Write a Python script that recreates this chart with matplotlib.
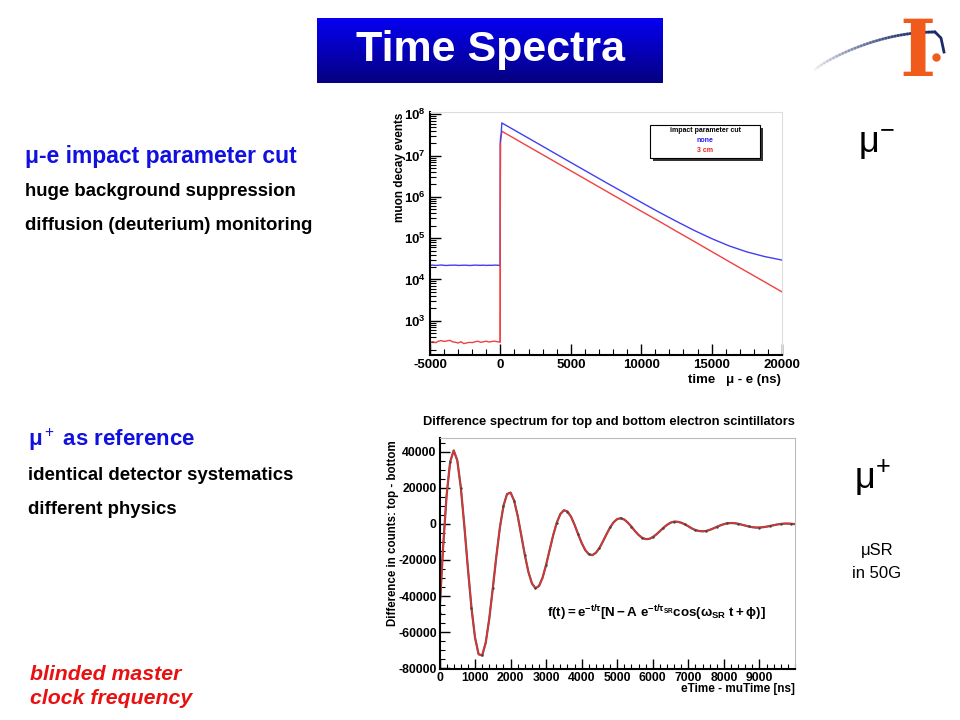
"""
Time spectra slide: mu- lifetime spectrum (log) and mu+ muSR difference spectrum
"""
import numpy as np
import matplotlib
matplotlib.use("Agg")
import matplotlib.pyplot as plt
from matplotlib.patches import Rectangle
from matplotlib.ticker import FixedLocator, MultipleLocator, LogLocator, NullFormatter

plt.rcParams['font.family'] = ['Liberation Sans', 'DejaVu Sans']
plt.rcParams['mathtext.fontset'] = 'custom'
plt.rcParams['mathtext.rm'] = 'Liberation Sans'
plt.rcParams['mathtext.it'] = 'Liberation Sans:italic'
plt.rcParams['mathtext.bf'] = 'Liberation Sans:bold'
plt.rcParams['axes.unicode_minus'] = False

# ---- top plot data (mu- time spectrum) ----
bgTime = [-5000, -4800, -4600, -4400, -4200, -4000, -3800, -3600, -3400, -3200,
          -3000, -2800, -2600, -2400, -2200, -2000, -1800, -1600, -1400, -1200,
          -1000, -800, -600, -400, -200, -20]
redBg = [300, 310, 295, 320, 330, 315, 325, 335, 310, 300,
         290, 310, 280, 290, 300, 295, 310, 320, 300, 310,
         320, 305, 315, 320, 310, 305]
blueBg = [22000, 22300, 21900, 22100, 22400, 22000, 21800, 22200, 22100, 22300,
          21900, 22000, 22200, 22100, 21800, 22000, 22300, 22100, 22000, 22200,
          21900, 22100, 22000, 22300, 22100, 22000]
decayTime = [0, 60, 100, 2500, 5000, 7500, 10000, 11250, 12500, 13750, 15000,
             16250, 17500, 18750, 20000]
redDecay = [2.0e7, 3.0e7, 3.9e7, 1.32e7, 4.29e6, 1.39e6, 4.52e5, 2.6e5, 1.47e5,
            8.4e4, 4.76e4, 2.7e4, 1.54e4, 8.8e3, 5.0e3]
blueDecay = [2.5e7, 3.5e7, 6.2e7, 2.11e7, 6.83e6, 2.23e6, 7.4e5, 4.3e5, 2.56e5,
             1.55e5, 9.8e4, 6.5e4, 4.66e4, 3.6e4, 2.95e4]

# ---- bottom plot data (top - bottom difference, every 100 ns) ----
diffTime = list(range(0, 10100, 100))
diffCounts = [-49200, -13200, 15900, 34500, 40800, 35300, 20200, -1300, -24900, -46700,
              -63200, -72300, -73000, -65900, -52600, -35600, -17800, -1800, 10100, 16600,
              17400, 12900, 4400, -6300, -17200, -26600, -33000, -35700, -34400, -29800,
              -22600, -14300, -6100, 800, 5500, 7600, 6900, 4000, -500, -5700,
              -10600, -14500, -16800, -17300, -16000, -13300, -9600, -5600, -1900, 1000,
              2700, 3200, 2400, 700, -1500, -4000, -6100, -7700, -8400, -8300,
              -7300, -5800, -4000, -2100, -500, 700, 1300, 1200, 700, -200,
              -1300, -2500, -3400, -3900, -4100, -3900, -3300, -2500, -1600, -800,
              -100, 400, 500, 400, 100, -400, -900, -1400, -1800, -2000,
              -2000, -1800, -1500, -1100, -700, -300, 0, 200, 200, 100,
              -100]


def px(x, y):
    # slide pixel coordinates -> figure fraction
    return x / 960.0, 1 - y / 720.0


fig = plt.figure(figsize=(9.6, 7.2), dpi=100)
fig.patch.set_facecolor("white")

# ---- title box with blue gradient ----
tax = fig.add_axes([317 / 960, 1 - 83 / 720, 346 / 960, 65 / 720])
grad = np.linspace(0, 1, 64).reshape(-1, 1)
cols = np.zeros((64, 1, 3))
cols[:, 0, 2] = 0.95 - 0.45 * grad[:, 0]
cols[:, 0, 0] = 0.02
tax.imshow(cols, aspect="auto", extent=[0, 1, 0, 1])
tax.set_axis_off()
tax.text(0.5, 0.5, "Time Spectra", color="white", fontsize=31, fontweight="bold",
         ha="center", va="center", transform=tax.transAxes)

# ---- logo ----
lax = fig.add_axes([790 / 960, 1 - 100 / 720, 170 / 960, 100 / 720])
lax.set_xlim(790, 960)
lax.set_ylim(100, 0)
lax.set_axis_off()
arcX = np.linspace(815, 935, 40)
arcY = 70 - 38 * np.sin((arcX - 815) / 120 * np.pi / 2) ** 0.8
for j in range(len(arcX) - 1):
    lax.plot(arcX[j:j + 2], arcY[j:j + 2], color="#1a2a6a", lw=2,
             alpha=0.05 + 0.95 * j / len(arcX), solid_capstyle="round")
lax.plot([935, 941, 944], [32, 38, 52], color="#1a2a6a", lw=2)
lax.text(918, 76, "I", fontsize=56, fontweight="bold", family="DejaVu Serif",
         color="#f05a1a", ha="center", va="baseline")
lax.plot([936], [57], "o", color="#f05a1a", ms=5)

# ---- left text ----
fig.text(*px(25, 157), "\u03bc-e impact parameter cut", color="#1010e0", fontsize=16.5,
         fontweight="bold", va="center")
fig.text(*px(25, 192), "huge background suppression", color="black", fontsize=13.4,
         fontweight="bold", va="center")
fig.text(*px(25, 226), "diffusion (deuterium) monitoring", color="black", fontsize=13.4,
         fontweight="bold", va="center")
fig.text(*px(28, 440), "\u03bc$^+$ as reference", color="#1010e0", fontsize=16,
         fontweight="bold", va="center")
fig.text(*px(28, 475), "identical detector systematics", color="black", fontsize=13.4,
         fontweight="bold", va="center")
fig.text(*px(28, 509), "different physics", color="black", fontsize=13.4,
         fontweight="bold", va="center")
fig.text(*px(30, 674), "blinded master", color="#e81010", fontsize=15.3,
         fontweight="bold", style="italic", va="center")
fig.text(*px(30, 699), "clock frequency", color="#e81010", fontsize=15.3,
         fontweight="bold", style="italic", va="center")

# ---- right labels ----
fig.text(*px(876, 145), "\u03bc$^{-}$", fontsize=26, ha="center", va="center")
fig.text(*px(872, 478), "\u03bc$^{+}$", fontsize=26, ha="center", va="center")
fig.text(*px(877, 550), "\u03bcSR", fontsize=12, ha="center", va="center")
fig.text(*px(877, 573), "in 50G", fontsize=12, ha="center", va="center")

# ---- top plot ----
ax1 = fig.add_axes([430 / 960, 1 - 355 / 720, 352 / 960, 243 / 720])
ax1.set_yscale("log")
ax1.plot(bgTime + decayTime, redBg + redDecay, color="#f04040", lw=1.0)
ax1.plot(bgTime + decayTime, blueBg + blueDecay, color="#4040f0", lw=1.0)
ax1.plot([-20, 0], [redBg[-1], redDecay[0]], color="#f04040", lw=1.0)
ax1.set_xlim(-5000, 20000)
ax1.set_ylim(148, 1.14e8)
ax1.xaxis.set_major_locator(MultipleLocator(5000))
ax1.xaxis.set_minor_locator(MultipleLocator(1000))
ax1.yaxis.set_major_locator(LogLocator(base=10, numticks=12))
ax1.yaxis.set_minor_locator(LogLocator(base=10, subs=np.arange(2, 10), numticks=12))
ax1.yaxis.set_minor_formatter(NullFormatter())
ax1.set_yticks([1e3, 1e4, 1e5, 1e6, 1e7, 1e8])
ax1.set_yticklabels([r"$\mathbf{10^{%d}}$" % e for e in range(3, 9)])
ax1.set_xticks([-5000, 0, 5000, 10000, 15000, 20000])
ax1.set_xticklabels(["-5000", "0", "5000", "10000", "15000", "20000"])
ax1.tick_params(which="both", direction="in", top=False, right=False)
ax1.tick_params(which="major", length=8, width=1, labelsize=9.5, pad=3)
ax1.tick_params(which="minor", length=4, width=0.8)
for lab in ax1.get_xticklabels():
    lab.set_fontweight("bold")
for side in ["left", "bottom"]:
    ax1.spines[side].set_linewidth(1.5)
for side in ["top", "right"]:
    ax1.spines[side].set_color("#dddddd")
fig.text(*px(400, 167), "muon decay events", rotation=90, fontsize=8.5,
         fontweight="bold", ha="center", va="center")
fig.text(*px(781, 380), "time   \u03bc - e (ns)", fontsize=9.5, fontweight="bold",
         ha="right", va="center")

# legend box with shadow
fig.add_artist(Rectangle(px(653, 161), 110 / 960, 33 / 720, transform=fig.transFigure,
                         facecolor="#333333", edgecolor="none"))
fig.add_artist(Rectangle(px(650, 158), 110 / 960, 33 / 720, transform=fig.transFigure,
                         facecolor="white", edgecolor="black", lw=0.8))
fig.text(*px(705, 131), "impact parameter cut", fontsize=5, fontweight="bold",
         ha="center", va="center")
fig.text(*px(705, 141), "none", fontsize=5, fontweight="bold", color="#2020f0",
         ha="center", va="center")
fig.text(*px(705, 151), "3 cm", fontsize=5, fontweight="bold", color="#f02020",
         ha="center", va="center")

# ---- bottom plot ----
ax2 = fig.add_axes([439.5 / 960, 1 - 669 / 720, 355.5 / 960, 231 / 720])
ax2.plot(diffTime, diffCounts, color="#555555", lw=1.6)
ax2.plot(diffTime, diffCounts, color="#e83030", lw=1.1)
ax2.plot(diffTime[::3], diffCounts[::3], ".", color="#444444", ms=1.5)
ax2.set_xlim(0, 10000)
ax2.set_ylim(-80500, 47700)
ax2.xaxis.set_major_locator(MultipleLocator(1000))
ax2.xaxis.set_minor_locator(MultipleLocator(200))
ax2.yaxis.set_major_locator(FixedLocator(list(range(-80000, 40001, 20000))))
ax2.yaxis.set_minor_locator(MultipleLocator(5000))
ax2.set_xticks(list(range(0, 9001, 1000)))
ax2.set_xticklabels([str(v) for v in range(0, 9001, 1000)])
ax2.tick_params(which="both", direction="in", top=False, right=False)
ax2.tick_params(which="major", length=7, width=1, labelsize=8.8, pad=2)
ax2.tick_params(which="minor", length=3.5, width=0.8)
for lab in ax2.get_xticklabels() + ax2.get_yticklabels():
    lab.set_fontweight("bold")
for side in ["left", "bottom"]:
    ax2.spines[side].set_linewidth(1.5)
for side in ["top", "right"]:
    ax2.spines[side].set_color("#bbbbbb")
fig.text(*px(609, 422), "Difference spectrum for top and bottom electron scintillators",
         fontsize=9.3, fontweight="bold", ha="center", va="center")
fig.text(*px(393, 533), "Difference in counts: top - bottom", rotation=90, fontsize=8.3,
         fontweight="bold", ha="center", va="center")
fig.text(*px(795, 689), "eTime - muTime [ns]", fontsize=8.5, fontweight="bold",
         ha="right", va="center")
fig.text(*px(547, 613),
         r"$\mathbf{f(t) = e^{-t/\tau} [N - A\ e^{-t/\tau_{SR}} cos(\omega_{SR}\ t +\phi)]}$",
         fontsize=9.6, ha="left", va="center")

fig.savefig("out.png", dpi=100)
